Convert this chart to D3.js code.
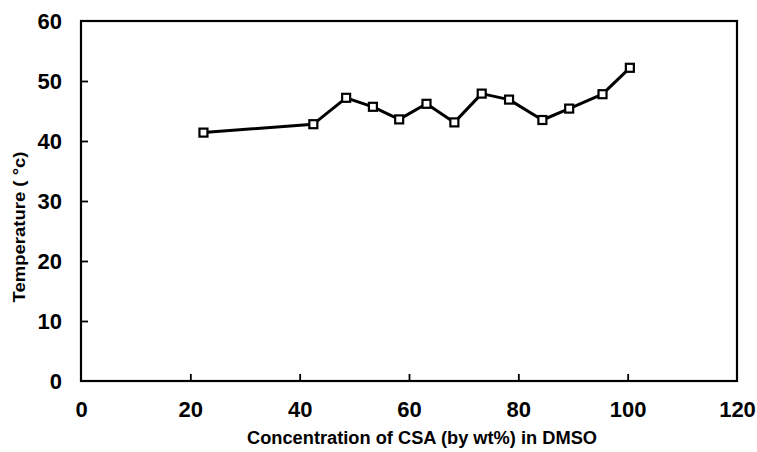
<!DOCTYPE html>
<html>
<head>
<meta charset="utf-8">
<script src="https://cdn.jsdelivr.net/npm/d3@7"></script>
<style>
  html, body { margin: 0; padding: 0; background: #fff; }
  svg { display: block; }
  text { font-family: "Liberation Sans", Arial, sans-serif; fill: #000; }
</style>
</head>
<body>
<svg id="chart" width="757" height="452"></svg>
<script>
// Data
const concentration = [22.4, 42.5, 48.5, 53.4, 58.2, 63.2, 68.3, 73.3, 78.3, 84.4, 89.3, 95.4, 100.4];
const temperature   = [41.4, 42.8, 47.2, 45.7, 43.6, 46.2, 43.1, 47.9, 46.9, 43.5, 45.4, 47.8, 52.2];
const xTicks = [0, 20, 40, 60, 80, 100, 120];
const yTicks = [0, 10, 20, 30, 40, 50, 60];
const xTitle = "Concentration of CSA (by wt%) in DMSO";
const yTitle = "Temperature ( \u00B0c)";

const svg = d3.select("#chart");
const margin = { left: 81, right: 20, top: 21, bottom: 71 };
const W = 757, H = 452;

const x = d3.scaleLinear().domain([0, 120]).range([margin.left, W - margin.right]);
const y = d3.scaleLinear().domain([0, 60]).range([H - margin.bottom, margin.top]);

// Frame
svg.append("rect")
  .attr("x", x(0)).attr("y", y(60))
  .attr("width", x(120) - x(0)).attr("height", y(0) - y(60))
  .attr("fill", "none").attr("stroke", "#000").attr("stroke-width", 2.2);

// X axis (ticks inward)
const xAxis = d3.axisBottom(x).tickValues(xTicks).tickSize(-7).tickPadding(20).tickFormat(d3.format("d"));
const gx = svg.append("g").attr("transform", `translate(0,${y(0)})`).call(xAxis);
gx.select(".domain").remove();
gx.selectAll(".tick line").attr("stroke", "#000").attr("stroke-width", 1.8)
  .filter(d => d === 0 || d === 120).remove();
gx.selectAll(".tick text").attr("font-size", 22).attr("font-weight", "bold")
  .attr("font-family", "'Liberation Sans', Arial, sans-serif").attr("fill", "#000");

// Y axis (ticks inward)
const yAxis = d3.axisLeft(y).tickValues(yTicks).tickSize(-7).tickPadding(19).tickFormat(d3.format("d"));
const gy = svg.append("g").attr("transform", `translate(${x(0)},0)`).call(yAxis);
gy.select(".domain").remove();
gy.selectAll(".tick line").attr("stroke", "#000").attr("stroke-width", 1.8)
  .filter(d => d === 0 || d === 60).remove();
gy.selectAll(".tick text").attr("font-size", 22).attr("font-weight", "bold")
  .attr("font-family", "'Liberation Sans', Arial, sans-serif").attr("fill", "#000");

// Axis titles
svg.append("text")
  .attr("x", 422).attr("y", 444)
  .attr("text-anchor", "middle")
  .attr("font-size", 18).attr("font-weight", "bold")
  .attr("textLength", 350).attr("lengthAdjust", "spacingAndGlyphs")
  .text(xTitle);

svg.append("text")
  .attr("transform", "translate(25,227) rotate(-90)")
  .attr("text-anchor", "middle")
  .attr("font-size", 17).attr("font-weight", "bold")
  .attr("textLength", 151).attr("lengthAdjust", "spacingAndGlyphs")
  .text(yTitle);

// Line
const data = concentration.map((c, i) => ({ c, t: temperature[i] }));
svg.append("path")
  .datum(data)
  .attr("fill", "none").attr("stroke", "#000").attr("stroke-width", 3)
  .attr("stroke-linejoin", "round")
  .attr("d", d3.line().x(d => x(d.c)).y(d => y(d.t)));

// Square markers
const s = 8;
svg.selectAll("rect.marker")
  .data(data).enter().append("rect")
  .attr("class", "marker")
  .attr("x", d => x(d.c) - s / 2).attr("y", d => y(d.t) - s / 2)
  .attr("width", s).attr("height", s)
  .attr("fill", "#fff").attr("stroke", "#000").attr("stroke-width", 2.2);
</script>
</body>
</html>
